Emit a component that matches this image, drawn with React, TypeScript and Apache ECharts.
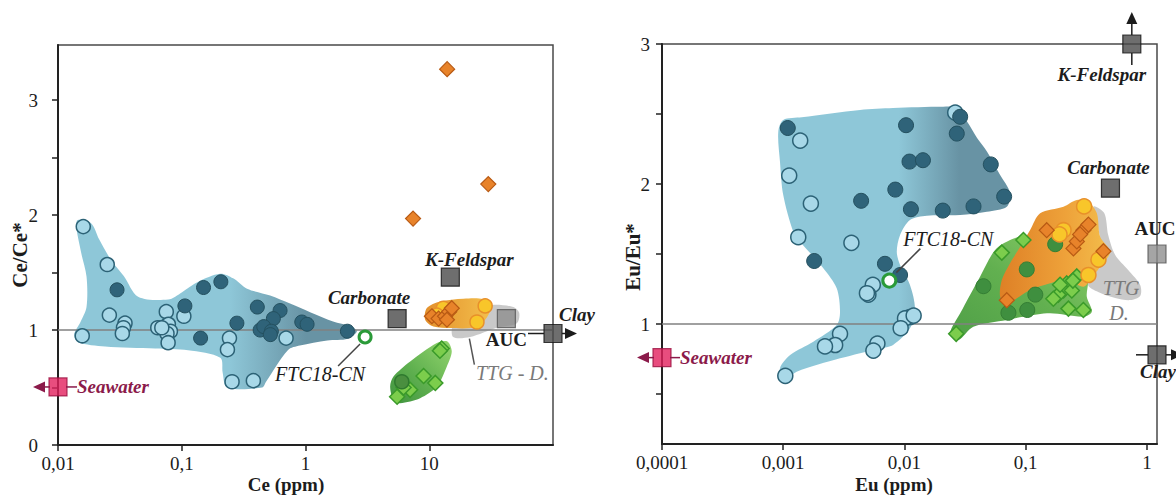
import React, { useEffect, useRef } from 'react';
import * as echarts from 'echarts';

type P = [number, number];

// ---------------- Left panel: Ce/Ce* vs Ce (ppm) ----------------
const ceXTicks = [0.01, 0.1, 1, 10];
const ceYTicks = [0, 0.5, 1, 1.5, 2, 2.5, 3];
const ceYLabels = [0, 1, 2, 3];
const ceUnity: P[] = [[0.01, 1], [100, 1]];

const ceBlueLight: P[] = [
  [0.016, 1.9], [0.025, 1.57], [0.026, 1.13], [0.0348, 1.06], [0.0338, 1.02], [0.0331, 0.97],
  [0.0157, 0.95], [0.075, 1.16], [0.064, 1.02], [0.0733, 1.03], [0.078, 1.05], [0.081, 0.99],
  [0.076, 0.97], [0.0776, 0.89], [0.069, 1.02], [0.104, 1.12], [0.243, 0.93], [0.234, 0.83],
  [0.255, 0.55], [0.379, 0.56], [0.697, 0.93],
];
const ceBlueDark: P[] = [
  [0.03, 1.35], [0.106, 1.21], [0.15, 1.37], [0.142, 0.93], [0.207, 1.42], [0.279, 1.06],
  [0.408, 1.2], [0.623, 1.17], [0.55, 1.1], [0.43, 1.0], [0.46, 1.03], [0.53, 0.99], [0.52, 0.96],
  [0.933, 1.07], [1.03, 1.05], [2.18, 0.99],
];
const ceOrangeDiamonds: P[] = [
  [13.95, 3.27], [30, 2.27], [7.4, 1.97], [10.5, 1.12], [11.9, 1.1], [13.4, 1.12], [14.5, 1.16],
  [15.2, 1.19], [13.9, 1.09],
];
const ceYellowCircles: P[] = [[28.3, 1.21], [24.3, 1.07], [13.0, 1.19], [11.5, 1.13]];
const ceGreenDiamonds: P[] = [
  [12.6, 0.84], [12.2, 0.82], [9.0, 0.6], [11.2, 0.54], [7.0, 0.48], [5.5, 0.42], [6.2, 0.5],
];
const ceGreenCircles: P[] = [[6.0, 0.55]];
const ceFTC: P[] = [[3.03, 0.94]];

const ceRefNames = ['Carbonate', 'K-Feldspar', 'AUC', 'Clay', 'Seawater'];
const ceRefValues: P[] = [[5.5, 1.1], [14.8, 1.46], [42, 1.1], [100, 0.97], [0.01, 0.505]];

const ceHullBlue: P[] = [
  [0.0142, 1.95], [0.0185, 1.93], [0.0215, 1.79], [0.0268, 1.61], [0.034, 1.47], [0.0444, 1.29],
  [0.0775, 1.265], [0.1006, 1.33], [0.1355, 1.42], [0.204, 1.49], [0.26, 1.45], [0.337, 1.36],
  [0.518, 1.3], [0.75, 1.23], [1.09, 1.155], [1.67, 1.075], [2.29, 1.035], [2.6, 0.99], [2.2, 0.925],
  [1.5, 0.91], [0.9, 0.865], [0.72, 0.825], [0.48, 0.55], [0.446, 0.5], [0.2325, 0.5],
  [0.214, 0.63], [0.205, 0.76], [0.1125, 0.825], [0.061, 0.84], [0.024, 0.858], [0.0145, 0.895],
  [0.0135, 0.96], [0.0152, 1.07], [0.017, 1.2], [0.017, 1.465], [0.0152, 1.7],
];
const ceHullOrange: P[] = [
  [9.57, 1.192], [12.25, 1.249], [18.9, 1.273], [27.4, 1.27], [31.5, 1.22], [30.1, 1.133],
  [25.8, 1.046], [21.4, 1.017], [14.8, 1.017], [10.8, 1.031], [9.27, 1.09],
];
const ceHullGray: P[] = [
  [15.6, 0.94], [21.4, 0.94], [35.2, 1.02], [51.1, 1.06], [53.3, 1.15], [47.7, 1.2], [32.9, 1.22],
  [21.4, 1.18], [15.6, 1.05],
];
const ceHullGreen: P[] = [
  [5.14, 0.595], [7.01, 0.726], [11.52, 0.887], [14.03, 0.901], [15.2, 0.813], [13.87, 0.683],
  [11.52, 0.508], [8.44, 0.407], [5.82, 0.364], [5.14, 0.392], [4.83, 0.508],
];

// ---------------- Right panel: Eu/Eu* vs Eu (ppm) ----------------
const euXTicks = [0.0001, 0.001, 0.01, 0.1, 1];
const euYTicks = [0.5, 1, 1.5, 2, 2.5, 3];
const euYLabels = [1, 2, 3];
const euUnity: P[] = [[0.0001, 1], [1.21, 1]];

const euBlueLight: P[] = [
  [0.00138, 2.31], [0.00112, 2.06], [0.00169, 1.86], [0.00133, 1.62], [0.00365, 1.58],
  [0.00548, 1.28], [0.00504, 1.21], [0.0049, 1.22], [0.00294, 0.93], [0.00268, 0.85],
  [0.00221, 0.84], [0.00598, 0.86], [0.00554, 0.81], [0.00104, 0.63], [0.0262, 2.51],
  [0.0111, 1.05], [0.0101, 1.04], [0.0093, 0.97], [0.0119, 1.06],
];
const euBlueDark: P[] = [
  [0.00109, 2.4], [0.00439, 1.88], [0.0018, 1.45], [0.0069, 1.43], [0.0288, 2.48], [0.0103, 2.42],
  [0.027, 2.36], [0.011, 2.16], [0.0142, 2.17], [0.0515, 2.14], [0.0084, 1.96], [0.0113, 1.82],
  [0.0207, 1.81], [0.0371, 1.84], [0.0664, 1.91], [0.0092, 1.35],
];
const euGreenDiamonds: P[] = [
  [0.0267, 0.93], [0.0635, 1.51], [0.0957, 1.6], [0.218, 1.29], [0.264, 1.34], [0.205, 1.24],
  [0.186, 1.21], [0.24, 1.24], [0.225, 1.11], [0.299, 1.1], [0.169, 1.18], [0.192, 1.28],
  [0.245, 1.31],
];
const euGreenCircles: P[] = [
  [0.0448, 1.27], [0.102, 1.39], [0.175, 1.57], [0.12, 1.21], [0.072, 1.08], [0.103, 1.1],
];
const euOrangeDiamonds: P[] = [
  [0.149, 1.67], [0.0698, 1.17], [0.2475, 1.54], [0.264, 1.59], [0.299, 1.67], [0.329, 1.71],
  [0.281, 1.64], [0.4375, 1.52],
];
const euYellowCircles: P[] = [[0.303, 1.84], [0.205, 1.67], [0.19, 1.64], [0.398, 1.46], [0.329, 1.35]];
const euFTC: P[] = [[0.0075, 1.31]];

const euRefNames = ['Carbonate', 'K-Feldspar', 'AUC', 'Clay', 'Seawater'];
const euRefValues: P[] = [[0.5, 1.97], [0.75, 3.0], [1.21, 1.5], [1.21, 0.78], [0.0001, 0.76]];

const euHullBlue: P[] = [
  [0.001, 2.457], [0.00142, 2.476], [0.0043, 2.529], [0.00805, 2.543], [0.0208, 2.552],
  [0.0272, 2.543], [0.0329, 2.445], [0.0397, 2.329], [0.048, 2.231], [0.0615, 2.064],
  [0.0743, 1.936], [0.0698, 1.838], [0.0478, 1.802], [0.0288, 1.779], [0.0153, 1.774],
  [0.0111, 1.743], [0.0092, 1.636], [0.00864, 1.516], [0.0092, 1.421], [0.0111, 1.279],
  [0.0122, 1.112], [0.0111, 0.969], [0.00805, 0.85], [0.0063, 0.826], [0.00294, 0.755],
  [0.00129, 0.659], [0.001, 0.588], [0.00094, 0.684], [0.00114, 0.779], [0.00177, 0.874],
  [0.00276, 0.993], [0.00294, 1.088], [0.00276, 1.255], [0.00214, 1.398], [0.00138, 1.588],
  [0.00121, 1.659], [0.001, 1.921], [0.00094, 2.159], [0.00091, 2.374],
];
const euHullGreen: P[] = [
  [0.0238, 0.934], [0.0288, 1.076], [0.042, 1.338], [0.0559, 1.529], [0.0743, 1.6], [0.0957, 1.624],
  [0.159, 1.529], [0.319, 1.338], [0.319, 1.195], [0.351, 1.088], [0.299, 1.052], [0.159, 1.076],
  [0.0957, 1.052], [0.0698, 1.029], [0.037, 0.981], [0.0278, 0.886],
];
const euHullOrange: P[] = [
  [0.1315, 1.791], [0.2047, 1.838], [0.264, 1.886], [0.329, 1.874], [0.386, 1.791], [0.411, 1.624],
  [0.497, 1.516], [0.411, 1.409], [0.34, 1.314], [0.299, 1.266], [0.218, 1.314], [0.159, 1.291],
  [0.1087, 1.243], [0.0698, 1.148], [0.0615, 1.195], [0.0635, 1.314], [0.0743, 1.434],
  [0.09, 1.552], [0.1087, 1.671],
];
const euHullGray: P[] = [
  [0.362, 1.838], [0.444, 1.793], [0.479, 1.636], [0.547, 1.493], [0.7, 1.386], [0.879, 1.279],
  [0.879, 1.2], [0.727, 1.171], [0.547, 1.186], [0.396, 1.229], [0.327, 1.279], [0.374, 1.421],
  [0.411, 1.6],
];

// ---------------- styling (not data) ----------------
const SERIF = 'Liberation Serif';
const INK = '#1c1c1c';

type TextStyle = { fontStyle: string; fontWeight: string; fontSize: number };
type Note = {
  anchor: string;
  text?: string;
  dx?: number;
  dy?: number;
  align?: 'left' | 'center' | 'right';
  ts?: TextStyle;
  color?: string;
  lineColor?: string;
  segs?: number[][];
  heads?: [number, number, 'left' | 'right' | 'up'][];
};

const BI: TextStyle = { fontStyle: 'italic', fontWeight: 'bold', fontSize: 19 };
const IT: TextStyle = { fontStyle: 'italic', fontWeight: 'normal', fontSize: 20 };
const BD: TextStyle = { fontStyle: 'normal', fontWeight: 'bold', fontSize: 19 };
const SEA = '#8b1a4a';

const ceNotes: Note[] = [
  { anchor: 'Carbonate', text: 'Carbonate', dx: -28, dy: -21, ts: BI, color: INK },
  { anchor: 'K-Feldspar', text: 'K-Feldspar', dx: 19, dy: -18, ts: BI, color: INK },
  { anchor: 'AUC', text: 'AUC', dx: 0, dy: 21, ts: BD, color: INK },
  { anchor: 'AUC', text: 'TTG - D.', dx: 6, dy: 54, ts: IT, color: '#7a7a7a', lineColor: '#555', segs: [[-37, 20, -32, 46]] },
  { anchor: 'Clay', text: 'Clay', dx: 24, dy: -19, ts: BI, color: INK, lineColor: INK, segs: [[-25, 0, -9, 0], [9, 0, 13, 0]], heads: [[24, 0, 'right']] },
  { anchor: 'Seawater', text: 'Seawater', dx: 19, dy: 0, align: 'left', ts: BI, color: SEA, lineColor: SEA, segs: [[-8, 0, -14, 0], [8, 0, 19, 0]], heads: [[-25, 0, 'left']] },
  { anchor: 'FTC18-CN', text: 'FTC18-CN', dx: -45, dy: 37, ts: IT, color: INK, lineColor: '#444', segs: [[-5, 7, -27, 29]] },
];

const euNotes: Note[] = [
  { anchor: 'Carbonate', text: 'Carbonate', dx: -2, dy: -21, ts: BI, color: INK },
  { anchor: 'K-Feldspar', text: 'K-Feldspar', dx: -30, dy: 30, ts: BI, color: INK, lineColor: INK, segs: [[0, -9, 0, -21], [0, 9, 0, 21]], heads: [[0, -32, 'up']] },
  { anchor: 'AUC', text: 'AUC', dx: -2, dy: -26, ts: BD, color: INK },
  { anchor: 'AUC', text: 'TTG', dx: -36, dy: 34, ts: IT, color: '#7a7a7a' },
  { anchor: 'AUC', text: 'D.', dx: -38, dy: 59, ts: IT, color: '#7a7a7a' },
  { anchor: 'Clay', text: 'Clay', dx: 1, dy: 17, ts: BI, color: INK, lineColor: INK, segs: [[-21, 0, -9, 0], [9, 0, 14, 0]], heads: [[26, 0, 'right']] },
  { anchor: 'Seawater', text: 'Seawater', dx: 18, dy: 0, align: 'left', ts: BI, color: SEA, lineColor: SEA, segs: [[-8, 0, -14, 0], [8, 0, 18, 0]], heads: [[-25, 0, 'left']] },
  { anchor: 'FTC18-CN', text: 'FTC18-CN', dx: 59, dy: -42, ts: IT, color: INK, lineColor: '#444', segs: [[7, -8, 31, -32]] },
];

const fmt = (v: number) => {
  if (v >= 1) return String(Math.round(v));
  const d = Math.round(-Math.log10(v));
  return v.toFixed(d).replace('.', ',');
};

function scatter(idx: number, data: P[], symbol: string, size: number, fill: string, stroke: string, lw: number, z: number) {
  return {
    type: 'scatter', xAxisIndex: idx, yAxisIndex: idx, data, symbol, symbolSize: size, z,
    silent: true, clip: false,
    itemStyle: { color: fill, borderColor: stroke, borderWidth: lw, opacity: 1 },
  };
}

function hull(idx: number, pts: P[], stops: [number, string][], dir: number[], z: number) {
  return {
    type: 'custom', xAxisIndex: idx, yAxisIndex: idx, z, silent: true,
    data: pts,
    renderItem: (params: any, api: any) => {
      if (params.dataIndex !== 0) return null;
      const points = pts.map((p) => api.coord(p));
      return {
        type: 'polygon',
        shape: { points, smooth: 0.3 },
        style: {
          fill: new echarts.graphic.LinearGradient(dir[0], dir[1], dir[2], dir[3],
            stops.map(([offset, color]) => ({ offset, color }))),
        },
      };
    },
  };
}

function notesSeries(idx: number, notes: Note[], lookup: Record<string, P>) {
  return {
    type: 'custom', xAxisIndex: idx, yAxisIndex: idx, z: 20, silent: true, clip: false,
    data: notes.map((n) => lookup[n.anchor]),
    renderItem: (params: any, api: any) => {
      const n = notes[params.dataIndex];
      const p = api.coord([api.value(0), api.value(1)]);
      const children: any[] = [];
      (n.segs || []).forEach((s) => children.push({
        type: 'line',
        shape: { x1: p[0] + s[0], y1: p[1] + s[1], x2: p[0] + s[2], y2: p[1] + s[3] },
        style: { stroke: n.lineColor || INK, lineWidth: 1.5 },
      }));
      (n.heads || []).forEach(([hx, hy, d]) => {
        const tx = p[0] + hx, ty = p[1] + hy;
        let pts: number[][];
        if (d === 'left') pts = [[tx, ty], [tx + 12, ty - 5.5], [tx + 12, ty + 5.5]];
        else if (d === 'right') pts = [[tx, ty], [tx - 12, ty - 5.5], [tx - 12, ty + 5.5]];
        else pts = [[tx, ty], [tx - 5.5, ty + 12], [tx + 5.5, ty + 12]];
        children.push({ type: 'polygon', shape: { points: pts }, style: { fill: n.lineColor || INK } });
      });
      if (n.text) {
        const ts = n.ts || BI;
        children.push({
          type: 'text',
          style: {
            text: n.text, x: p[0] + (n.dx || 0), y: p[1] + (n.dy || 0),
            align: n.align || 'center', verticalAlign: 'middle',
            fontFamily: SERIF, fontSize: ts.fontSize, fontWeight: ts.fontWeight, fontStyle: ts.fontStyle,
            fill: n.color,
          },
        });
      }
      return { type: 'group', children };
    },
  };
}

function refSeries(idx: number, names: string[], values: P[]) {
  const styleFor = (name: string) => {
    if (name === 'Seawater') return { color: '#e2215e', borderColor: '#9a1040', borderWidth: 1.2 };
    if (name === 'AUC') return { color: '#8e8e8e', borderColor: '#555', borderWidth: 1.2 };
    return { color: '#4a4a4a', borderColor: '#111', borderWidth: 1.2 };
  };
  return {
    type: 'scatter', xAxisIndex: idx, yAxisIndex: idx, z: 15, silent: true, clip: false,
    symbol: 'rect', symbolSize: 18,
    data: names.map((name, i) => ({ name, value: values[i], itemStyle: styleFor(name) })),
  };
}

const BLUE_LIGHT = ['#a8d8e8', '#2c6276'];
const BLUE_DARK = ['#2f6379', '#24505f'];

function buildOption() {
  const ceLookup: Record<string, P> = { 'FTC18-CN': ceFTC[0] };
  ceRefNames.forEach((n, i) => (ceLookup[n] = ceRefValues[i]));
  const euLookup: Record<string, P> = { 'FTC18-CN': euFTC[0] };
  euRefNames.forEach((n, i) => (euLookup[n] = euRefValues[i]));

  const axisLine = { show: true, onZero: false, lineStyle: { color: '#222', width: 2 } };
  const tick = (vals: number[]) => ({ show: true, inside: false, length: 6, customValues: vals, lineStyle: { color: '#222', width: 1.5 } });

  const xAxis = (grid: number, min: number, max: number, ticks: number[]) => ({
    type: 'log', logBase: 10, gridIndex: grid, min, max,
    axisLine, axisTick: tick(ticks), splitLine: { show: false }, minorTick: { show: false },
    axisLabel: { customValues: ticks, formatter: (v: number) => fmt(v), fontFamily: SERIF, fontSize: 19, color: INK, margin: 9 },
  });
  const yAxis = (grid: number, min: number, max: number, ticks: number[], labels: number[], margin: number) => ({
    type: 'value', gridIndex: grid, min, max,
    axisLine, axisTick: tick(ticks), splitLine: { show: false },
    axisLabel: { customValues: labels, formatter: (v: number) => String(Math.round(v)), fontFamily: SERIF, fontSize: 19, color: INK, margin },
  });

  const unity = (idx: number, data: P[]) => ({
    type: 'line', xAxisIndex: idx, yAxisIndex: idx, data, symbol: 'none', showSymbol: false, z: 4, silent: true,
    lineStyle: { color: '#808080', width: 1.5 },
  });

  const blueStops: [number, string][] = [[0, '#8ec7d8'], [0.55, '#8ec7d8'], [0.82, '#6893a4'], [1, '#6893a4']];
  const euBlueStops: [number, string][] = [[0, '#8ec7d8'], [0.52, '#8ec7d8'], [0.78, '#6893a4'], [1, '#6893a4']];
  const titleStyle = (text: string, size: number) => ({
    text, align: 'center', verticalAlign: 'middle', fontFamily: SERIF, fontWeight: 'bold', fontSize: size, fill: INK,
  });

  return {
    animation: false,
    backgroundColor: '#ffffff',
    grid: [
      { left: 58, top: 45, width: 495, height: 400, show: true, borderColor: '#4a4a4a', borderWidth: 1.5, backgroundColor: 'transparent' },
      { left: 662, top: 44, width: 495, height: 400, show: true, borderColor: '#4a4a4a', borderWidth: 1.5, backgroundColor: 'transparent' },
    ],
    xAxis: [xAxis(0, 0.01, 100, ceXTicks), xAxis(1, 0.0001, 1.21, euXTicks)],
    yAxis: [yAxis(0, 0, 3.48, ceYTicks, ceYLabels, 20), yAxis(1, 0.143, 3, euYTicks, euYLabels, 12)],
    graphic: [
      { type: 'text', x: 20, y: 255, rotation: Math.PI / 2, style: titleStyle('Ce/Ce*', 21) },
      { type: 'text', x: 286, y: 484, style: titleStyle('Ce (ppm)', 19) },
      { type: 'text', x: 633, y: 257, rotation: Math.PI / 2, style: titleStyle('Eu/Eu*', 21) },
      { type: 'text', x: 894, y: 484, style: titleStyle('Eu (ppm)', 19) },
    ],
    series: [
      // left panel
      hull(0, ceHullGray, [[0, '#c9c9c9'], [1, '#c9c9c9']], [0, 0, 1, 0], 1),
      hull(0, ceHullBlue, blueStops, [0, 0, 1, 0], 2),
      hull(0, ceHullGreen, [[0, '#3f9240'], [0.45, '#5fb04f'], [1, '#94d56e']], [0, 1, 1, 0], 2),
      hull(0, ceHullOrange, [[0, '#e3902c'], [1, '#f3bf4c']], [0, 0, 1, 0], 3),
      unity(0, ceUnity),
      scatter(0, ceBlueLight, 'circle', 14, BLUE_LIGHT[0], BLUE_LIGHT[1], 1.5, 6),
      scatter(0, ceBlueDark, 'circle', 14, BLUE_DARK[0], BLUE_DARK[1], 1, 7),
      scatter(0, ceYellowCircles, 'circle', 14, '#f8c62a', '#e8902a', 1.5, 6),
      scatter(0, ceOrangeDiamonds, 'diamond', 15, '#e8832a', '#b85a14', 1.2, 7),
      scatter(0, ceGreenDiamonds, 'diamond', 15, '#7ccd4c', '#3a9a2a', 1.5, 6),
      scatter(0, ceGreenCircles, 'circle', 14, '#4a8f3f', '#2f7a2f', 1.5, 7),
      scatter(0, ceFTC, 'circle', 12, '#ffffff', '#2a9a38', 3, 8),
      refSeries(0, ceRefNames, ceRefValues),
      notesSeries(0, ceNotes, ceLookup),
      // right panel
      hull(1, euHullBlue, euBlueStops, [0, 0, 1, 0], 2),
      hull(1, euHullGreen, [[0, '#4f9f47'], [0.5, '#62b050'], [1, '#8fd06a']], [0, 1, 1, 0], 2),
      hull(1, euHullGray, [[0, '#c9c9c9'], [1, '#c9c9c9']], [0, 0, 1, 0], 1),
      hull(1, euHullOrange, [[0, '#de8026'], [0.6, '#eea23a'], [1, '#f3be4c']], [0, 0, 1, 0], 3),
      unity(1, euUnity),
      scatter(1, euBlueLight, 'circle', 15, BLUE_LIGHT[0], BLUE_LIGHT[1], 1.5, 6),
      scatter(1, euBlueDark, 'circle', 15, BLUE_DARK[0], BLUE_DARK[1], 1, 7),
      scatter(1, euGreenCircles, 'circle', 15, '#3f8f3f', '#347e34', 1, 6),
      scatter(1, euGreenDiamonds, 'diamond', 15, '#7ccd4c', '#3a9a2a', 1.5, 7),
      scatter(1, euYellowCircles, 'circle', 15, '#f8c62a', '#e8902a', 1.5, 7),
      scatter(1, euOrangeDiamonds, 'diamond', 15, '#e8832a', '#b85a14', 1.2, 8),
      scatter(1, euFTC, 'circle', 13, '#ffffff', '#2a9a38', 3, 9),
      refSeries(1, euRefNames, euRefValues),
      notesSeries(1, euNotes, euLookup),
    ],
  };
}

export default function App() {
  const ref = useRef<HTMLDivElement>(null);
  useEffect(() => {
    const chart = echarts.init(ref.current!, null, { renderer: 'svg' });
    chart.setOption(buildOption() as any);
    return () => chart.dispose();
  }, []);
  return (
    <div
      ref={ref}
      style={{ position: 'fixed', left: 0, top: 0, width: 1176, height: 497, background: '#fff' }}
    />
  );
}
